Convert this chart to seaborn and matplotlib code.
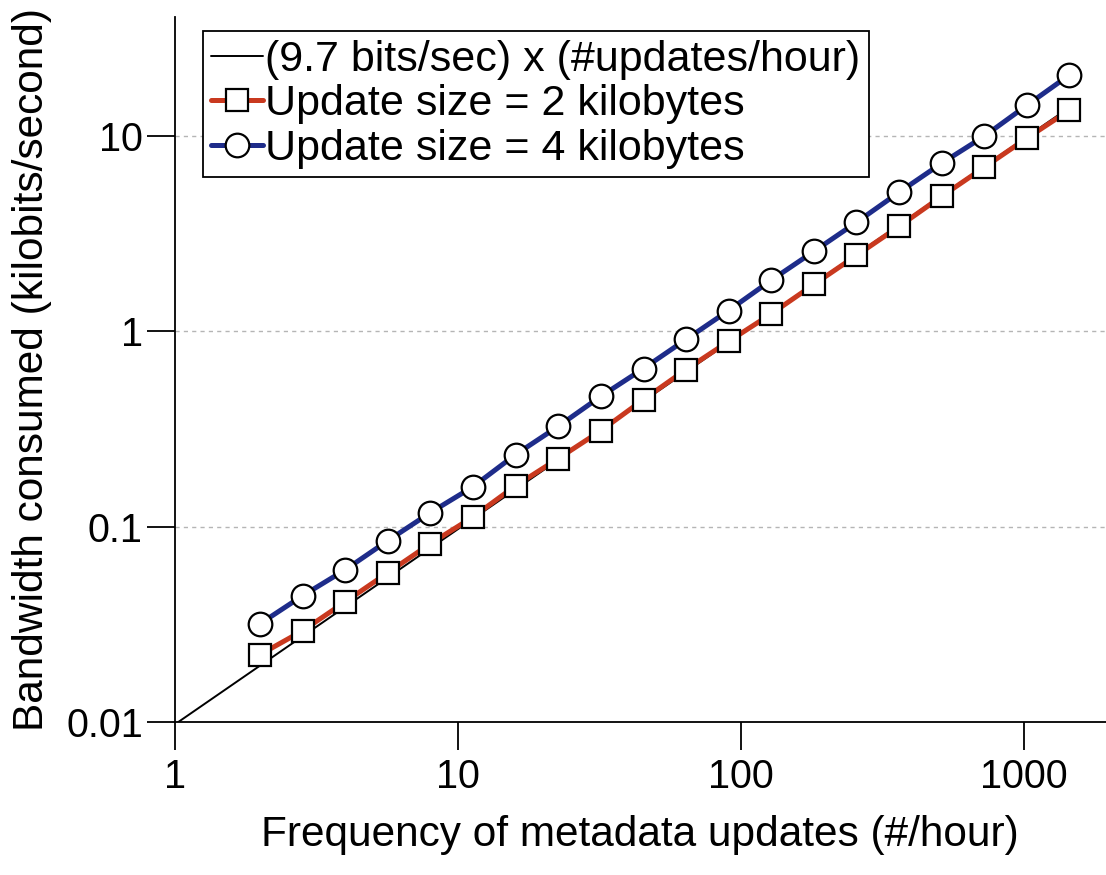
import seaborn as sns
import matplotlib.pyplot as plt
import pandas as pd

# updates per hour (sqrt(2) steps)
freq = [2, 2.83, 4, 5.66, 8, 11.3, 16, 22.6, 32, 45.3, 64, 90.5,
        128, 181, 256, 362, 512, 724, 1024, 1448]
bw_2kb = [0.0221, 0.0293, 0.0412, 0.0581, 0.0818, 0.112, 0.162, 0.223,
          0.310, 0.448, 0.638, 0.889, 1.23, 1.74, 2.45, 3.45, 4.92,
          6.93, 9.77, 13.6]
bw_4kb = [0.0318, 0.0443, 0.0601, 0.0848, 0.118, 0.160, 0.234, 0.326,
          0.465, 0.646, 0.910, 1.28, 1.83, 2.57, 3.62, 5.16, 7.27,
          10.0, 14.4, 20.6]
ref_x = [1, 1448]
ref_y = [0.0097, 14.05]

red = "#c9391f"
blue = "#1e2c8a"

sns.set_style("ticks")
plt.rcParams["font.family"] = ["Liberation Sans", "DejaVu Sans"]
plt.rcParams["text.color"] = "black"
plt.rcParams["axes.labelcolor"] = "black"

df2 = pd.DataFrame({"freq": freq, "bw": bw_2kb})
df4 = pd.DataFrame({"freq": freq, "bw": bw_4kb})
dref = pd.DataFrame({"freq": ref_x, "bw": ref_y})

fig = plt.figure(figsize=(11.06, 8.75), dpi=100)
ax = fig.add_axes([0.158, 0.175, 0.842, 0.806])

sns.lineplot(data=df2, x="freq", y="bw", ax=ax, color=red, linewidth=3.6,
             marker="s", markersize=16, markerfacecolor="white",
             markeredgecolor="black", markeredgewidth=1.6, zorder=3,
             label="Update size = 2 kilobytes")
sns.lineplot(data=dref, x="freq", y="bw", ax=ax, color="black", linewidth=1.4,
             zorder=2.5, label="(9.7 bits/sec) x (#updates/hour)")
sns.lineplot(data=df4, x="freq", y="bw", ax=ax, color=blue, linewidth=3.6,
             marker="o", markersize=17, markerfacecolor="white",
             markeredgecolor="black", markeredgewidth=1.6, zorder=3,
             label="Update size = 4 kilobytes")

ax.set_xscale("log")
ax.set_yscale("log")
ax.set_xlim(1, 1950)
ax.set_ylim(0.01, 41)
ax.set_xticks([1, 10, 100, 1000])
ax.set_xticklabels(["1", "10", "100", "1000"])
ax.set_yticks([0.01, 0.1, 1, 10])
ax.set_yticklabels(["0.01", "0.1", "1", "10"])
ax.minorticks_off()
ax.tick_params(axis="both", which="major", direction="out", length=20,
               width=1.3, labelsize=28.5, colors="black")
ax.tick_params(axis="x", pad=6)
ax.tick_params(axis="y", pad=3)

for y in [0.1, 1, 10]:
    ax.axhline(y, color="#b5b5b5", linewidth=1, linestyle=(0, (3, 3)), zorder=0)

sns.despine(ax=ax)
for s in ["left", "bottom"]:
    ax.spines[s].set_linewidth(1.3)
    ax.spines[s].set_color("black")

ax.set_xlabel("Frequency of metadata updates (#/hour)", fontsize=30.5, labelpad=14)
ax.set_ylabel("Bandwidth consumed (kilobits/second)", fontsize=30.5, labelpad=10)

handles, labels = ax.get_legend_handles_labels()
order = [1, 0, 2]
leg = ax.legend([handles[i] for i in order], [labels[i] for i in order],
                loc="upper left", bbox_to_anchor=(0.03, 0.979), fontsize=31,
                frameon=True, fancybox=False, edgecolor="black",
                handlelength=1.2, handletextpad=0.05, labelspacing=0.1,
                borderpad=0.2, borderaxespad=0, markerscale=1.0)
leg.get_frame().set_linewidth(1.3)
leg.get_frame().set_alpha(1)

plt.savefig("out.png", dpi=100)
plt.close()
